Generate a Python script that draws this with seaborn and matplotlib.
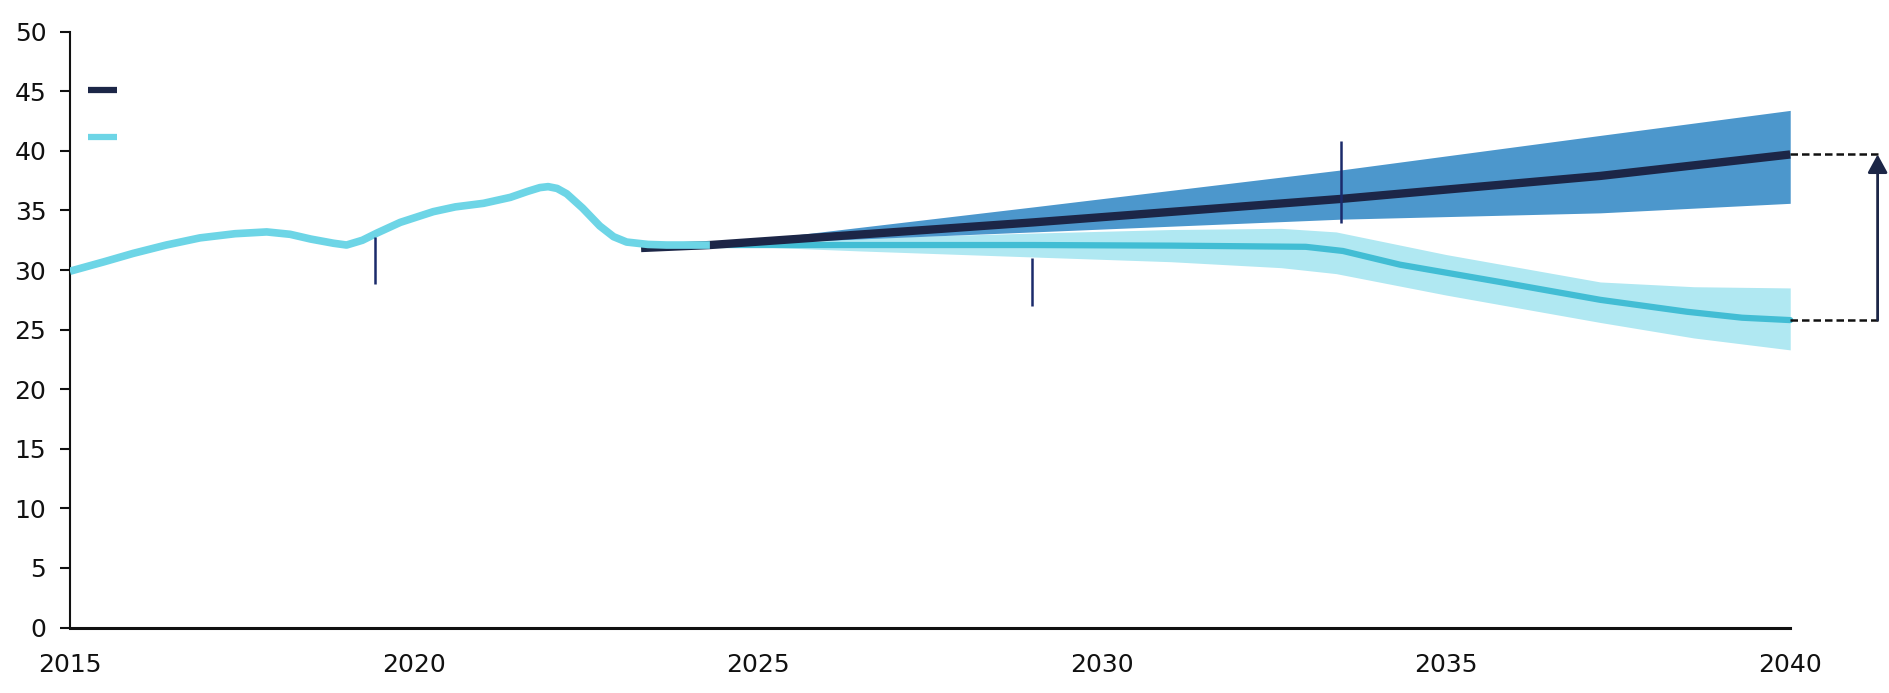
"""
Projection chart: historical series and two diverging scenarios (2015-2040)
"""
import numpy as np
import pandas as pd
import matplotlib
matplotlib.use("Agg")
import matplotlib.pyplot as plt
from matplotlib.lines import Line2D
import seaborn as sns

sns.set_theme(style="white")
plt.rcParams["font.family"] = ["DejaVu Sans"]

# ── Data ─────────────────────────────────────────────────────────────────────
hist_years = [2015.0, 2015.5, 2015.92, 2016.4, 2016.89, 2017.4, 2017.86, 2018.2,
              2018.5, 2018.83, 2019.02, 2019.25, 2019.46, 2019.8, 2020.28, 2020.6,
              2021.01, 2021.4, 2021.65, 2021.83, 2021.95, 2022.08, 2022.22, 2022.45,
              2022.7, 2022.9, 2023.09, 2023.4, 2023.67, 2024.3]
hist_values = [29.9, 30.7, 31.4, 32.1, 32.7, 33.05, 33.2, 33.0,
               32.6, 32.25, 32.1, 32.5, 33.1, 34.0, 34.9, 35.3,
               35.6, 36.1, 36.6, 36.92, 37.0, 36.85, 36.4, 35.2,
               33.7, 32.8, 32.35, 32.15, 32.1, 32.1]

# high scenario (dark line + blue band)
high_years = [2023.3, 2024.3, 2029.0, 2033.47, 2037.24, 2040.0]
high_mid = [31.85, 32.1, 34.0, 35.97, 37.9, 39.7]
high_band_years = [2024.3, 2029.0, 2033.47, 2037.24, 2040.0]
high_lo = [32.1, 33.2, 34.27, 34.8, 35.6]
high_hi = [32.1, 35.3, 38.4, 41.3, 43.4]

# low scenario (cyan line + light band)
low_years = [2024.3, 2026.0, 2029.0, 2031.0, 2032.96, 2033.5, 2034.33, 2035.78,
             2037.24, 2038.5, 2039.3, 2040.0]
low_mid = [32.1, 32.1, 32.1, 32.05, 31.95, 31.6, 30.45, 29.0,
           27.5, 26.5, 26.0, 25.8]
low_band_years = [2024.3, 2026.5, 2028.98, 2031.0, 2032.6, 2033.4, 2035.0,
                  2037.24, 2038.6, 2040.0]
low_lo = [32.1, 31.6, 31.1, 30.7, 30.2, 29.7, 27.9, 25.6, 24.3, 23.3]
low_hi = [32.1, 32.7, 33.1, 33.4, 33.5, 33.2, 31.3, 29.0, 28.6, 28.5]

# short vertical markers
marker_years = [2019.44, 2028.98, 2033.47]
marker_lo = [28.83, 26.97, 33.95]
marker_hi = [32.77, 31.0, 40.86]

gap_x = 2041.27
x_ticks = [2015, 2020, 2025, 2030, 2035, 2040]
y_ticks = [0, 5, 10, 15, 20, 25, 30, 35, 40, 45, 50]

NAVY = "#1c2647"
BLUE_BAND = "#4c97cc"
CYAN_HIST = "#6dd5e6"
CYAN_PROJ = "#42bdd4"
CYAN_BAND = "#b0e8f2"
MARK = "#1b2a6b"

hist_df = pd.DataFrame({"year": hist_years, "value": hist_values})
high_df = pd.DataFrame({"year": high_years, "value": high_mid})
low_df = pd.DataFrame({"year": low_years, "value": low_mid})

# ── Figure ───────────────────────────────────────────────────────────────────
fig = plt.figure(figsize=(18.9, 6.93), dpi=100)
ax = fig.add_axes([0.037, 0.0945, 0.963, 0.8597])

ax.fill_between(low_band_years, low_lo, low_hi, color=CYAN_BAND, lw=0, zorder=1)
ax.fill_between(high_band_years, high_lo, high_hi, color=BLUE_BAND, lw=0, zorder=2)

sns.lineplot(data=low_df, x="year", y="value", ax=ax, color=CYAN_PROJ,
             linewidth=4.5, zorder=3, solid_joinstyle="round")
sns.lineplot(data=high_df, x="year", y="value", ax=ax, color=NAVY,
             linewidth=6, zorder=4, solid_joinstyle="round", solid_capstyle="butt")
sns.lineplot(data=hist_df, x="year", y="value", ax=ax, color=CYAN_HIST,
             linewidth=5.5, zorder=5, solid_joinstyle="round", solid_capstyle="butt")

ax.vlines(marker_years, marker_lo, marker_hi, color=MARK, lw=1.8, zorder=6)

# gap bracket between the two scenarios in 2040
ax.hlines([high_mid[-1], low_mid[-1]], high_years[-1], gap_x,
          colors="#111111", linestyles=(0, (3, 1.6)), lw=1.8, zorder=6)
ax.annotate("", xy=(gap_x, high_mid[-1]), xytext=(gap_x, low_mid[-1]),
            arrowprops=dict(arrowstyle="-|>,head_length=0.55,head_width=0.3",
                            color=NAVY, lw=2, mutation_scale=20,
                            shrinkA=0, shrinkB=0), zorder=7)

# ── Axes styling ─────────────────────────────────────────────────────────────
ax.set_xlim(2015, 2041.45)
ax.set_ylim(0, 50)
ax.set_xticks(x_ticks)
ax.set_yticks(y_ticks)
ax.set_xlabel("")
ax.set_ylabel("")
ax.tick_params(axis="x", length=0, pad=18, labelsize=18, colors="#111111")
ax.tick_params(axis="y", left=True, direction="out", length=7, width=1.5,
               pad=10, labelsize=18, colors="#111111")
for side in ["top", "right"]:
    ax.spines[side].set_visible(False)
ax.spines["left"].set_color("#111111")
ax.spines["left"].set_linewidth(1.5)
ax.spines["bottom"].set_color("#111111")
ax.spines["bottom"].set_linewidth(2.2)
ax.spines["bottom"].set_bounds(2015, 2040)
ax.grid(False)

# legend keys without text
handles = [Line2D([], [], color=NAVY, lw=4.5, solid_capstyle="butt"),
           Line2D([], [], color=CYAN_HIST, lw=4.5, solid_capstyle="butt")]
fig.legend(handles, ["", ""], loc="center left", bbox_to_anchor=(0.0466, 0.834),
           frameon=False, fontsize=16, handlelength=1.3, handletextpad=0,
           borderpad=0, borderaxespad=0, labelspacing=1.2)

plt.savefig("out.png", dpi=100)
plt.close()
